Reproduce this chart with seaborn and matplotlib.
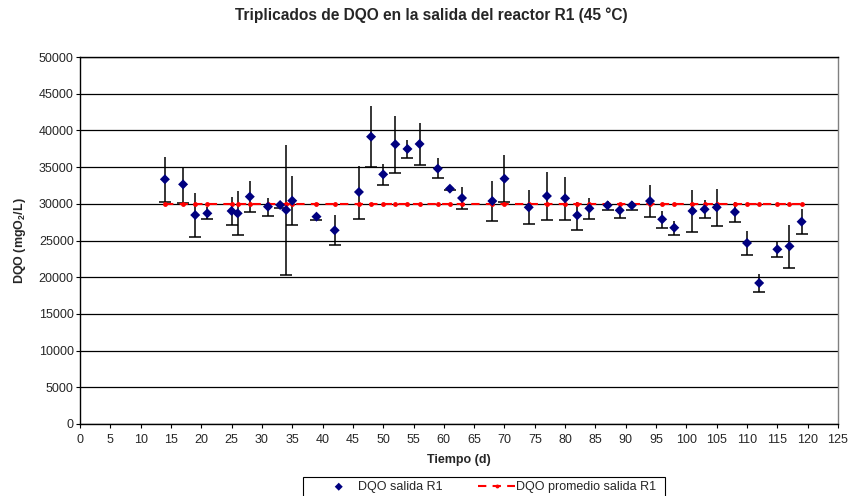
import matplotlib
matplotlib.use("Agg")
import matplotlib.pyplot as plt
from matplotlib.patches import Rectangle
import seaborn as sns
import pandas as pd

# Sampling days and COD triplicate statistics at the outlet of reactor R1
dias = [14, 17, 19, 21, 25, 26, 28, 31, 33, 34, 35, 39, 42, 46, 48, 50, 52, 54,
        56, 59, 61, 63, 68, 70, 74, 77, 80, 82, 84, 87, 89, 91, 94, 96, 98, 101,
        103, 105, 108, 110, 112, 115, 117, 119]
dqo_media = [33340, 32650, 28470, 28700, 29020, 28700, 30970, 29610, 29840, 29160,
             30420, 28250, 26390, 31610, 39140, 34010, 38110, 37470, 38150, 34790,
             32060, 30790, 30380, 33420, 29520, 31060, 30750, 28430, 29380, 29790,
             29110, 29790, 30380, 27890, 26740, 29020, 29250, 29520, 28880, 24660,
             19210, 23800, 24210, 27560]
dqo_max = [36390, 35050, 31430, 29610, 30970, 31740, 33110, 30750, 30200, 38010,
           33790, 28610, 28470, 35190, 43320, 35380, 41960, 38690, 41050, 36190,
           32250, 32290, 33110, 36650, 31880, 34330, 33690, 30290, 30840, 30430,
           30070, 30430, 32560, 29020, 27700, 31880, 30520, 32020, 30290, 26290,
           20440, 24970, 27150, 29250]
dqo_min = [30290, 30150, 25520, 27930, 27110, 25750, 28840, 28380, 29380, 20300,
           27070, 27790, 24390, 27970, 35050, 32520, 34240, 36280, 35290, 33470,
           31880, 29290, 27610, 30200, 27200, 27790, 27840, 26430, 27930, 29160,
           28020, 29160, 28200, 26740, 25790, 26160, 28020, 26980, 27470, 23020,
           18030, 22750, 21290, 25890]
dqo_promedio = 30000

x_ticks = list(range(0, 126, 5))
y_ticks = list(range(0, 50001, 5000))

df = pd.DataFrame({"dia": dias, "dqo": dqo_media, "max": dqo_max, "min": dqo_min})
df["promedio"] = dqo_promedio

sns.set_theme(style="white")
plt.rcParams["font.family"] = ["Liberation Sans", "DejaVu Sans"]
plt.rcParams["mathtext.default"] = "regular"

W, H = 849, 496
fig = plt.figure(figsize=(W / 100, H / 100), dpi=100)
ax = fig.add_axes([80 / W, 72 / H, 758 / W, 367 / H])

# horizontal grid
for yv in y_ticks:
    ax.axhline(yv, color="black", lw=0.9, zorder=0)

# error bars with caps on the lower end
ax.vlines(df["dia"], df["min"], df["max"], color="black", lw=1.1, zorder=2)
ax.plot(df["dia"], df["min"], linestyle="none", marker="_", ms=8, mew=1.1,
        color="black", zorder=2)

# mean COD reference line
sns.lineplot(data=df, x="dia", y="promedio", ax=ax, color="#ff0000", lw=1.5,
             linestyle=(0, (4, 3)), marker="o", markersize=3.5, markeredgewidth=0,
             label="DQO promedio salida R1", zorder=3, legend=False)

# triplicate means
sns.scatterplot(data=df, x="dia", y="dqo", ax=ax, marker="D", s=26,
                color="#000080", edgecolor="none", label="DQO salida R1",
                zorder=4, legend=False)

ax.set_xlim(0, 125)
ax.set_ylim(0, 50000)
ax.set_xticks(x_ticks)
ax.set_yticks(y_ticks)
ax.tick_params(axis="both", labelsize=9, length=3, width=0.8, direction="out",
               color="black", bottom=True, left=True)
ax.tick_params(axis="x", pad=4)
ax.tick_params(axis="y", pad=1.5)

for side in ["left", "bottom", "top"]:
    ax.spines[side].set_color("black")
    ax.spines[side].set_linewidth(1.0)
ax.spines["right"].set_color("#808080")
ax.spines["right"].set_linewidth(1.0)

ax.set_xlabel("Tiempo (d)", fontsize=9, fontweight="bold", labelpad=6)
ax.set_ylabel("DQO (mgO$_2$/L)", fontsize=9, fontweight="bold", labelpad=8)

fig.suptitle("Triplicados de DQO en la salida del reactor R1 (45 °C)",
             fontsize=11.2, fontweight="bold", x=431 / W, y=1 - 15 / H,
             va="center")

handles, labels = ax.get_legend_handles_labels()
order = [labels.index("DQO salida R1"), labels.index("DQO promedio salida R1")]
leg = fig.legend([handles[i] for i in order], [labels[i] for i in order],
                 loc="upper left", bbox_to_anchor=(320 / W, (H - 481) / H), ncol=2,
                 fontsize=9, frameon=False, borderpad=0.0, borderaxespad=0.0,
                 handlelength=3.0, handletextpad=0.05, columnspacing=2.8,
                 markerscale=0.8, numpoints=1)

# legend border
fig.add_artist(Rectangle((303 / W, -0.05), (665 - 303) / W, (H - 477) / H + 0.05,
                         transform=fig.transFigure, fill=False,
                         edgecolor="black", linewidth=0.8))

fig.savefig("out.png", dpi=100)
